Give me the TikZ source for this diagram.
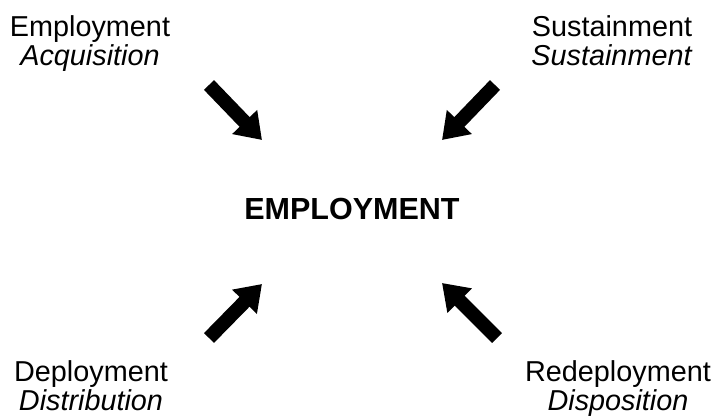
\documentclass[tikz,border=0pt]{standalone}
\usepackage{fontspec}
\setmainfont{Liberation Sans}
\usetikzlibrary{%
  arrows.meta,%
  calc%
}
\tikzset{>={Triangle[length=25pt,width=33pt]}}
\tikzset{
  corner/.style={align=center,inner sep=0pt,anchor=north,
    font=\fontsize{28.8}{29}\selectfont},
  bigarrow/.style={->,line width=14pt,black}
}

\begin{document}
\begin{tikzpicture}[x=1pt,y=1pt]
    \useasboundingbox (0,0) rectangle (712,417);
    \node[font=\bfseries\fontsize{30.5}{36}\selectfont] (emp) at (352,208) {EMPLOYMENT};
    \node[corner] (acq) at (90,402) {Employment\\\textit{Acquisition}};
    \node[corner] (sus) at (612,402) {Sustainment\\\textit{Sustainment}};
    \node[corner] (dist) at (91,57) {Deployment\\\textit{Distribution}};
    \node[corner] (disp) at (618,57) {Redeployment\\\textit{Disposition}};
    % arrows into the centre
    \coordinate (acqTail) at (209,332);
    \coordinate (acqTip) at (262,277);
    \coordinate (susTail) at (495,332);
    \coordinate (susTip) at (442,277);
    \coordinate (distTail) at (209,79);
    \coordinate (distTip) at (262,133);
    \coordinate (dispTail) at (497,79);
    \coordinate (dispTip) at (442,134);
    \draw[bigarrow] (acqTail) -- (acqTip);
    \draw[bigarrow] (susTail) -- (susTip);
    \draw[bigarrow] (distTail) -- (distTip);
    \draw[bigarrow] (dispTail) -- (dispTip);
\end{tikzpicture}
\end{document}
